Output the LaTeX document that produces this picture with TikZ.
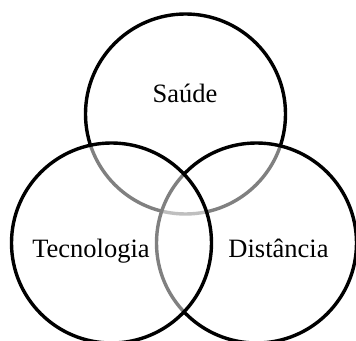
\documentclass[tikz,border=0pt]{standalone}
\usepackage{fontspec}
\setmainfont{Liberation Serif}
\begin{document}
\begin{tikzpicture}[x=1pt,y=1pt,
  venn/.style={circle, draw=black, line width=3.4pt, fill=white, fill opacity=0.5, draw opacity=1, minimum size=200pt, inner sep=0pt},
  lbl/.style={anchor=base, font=\fontsize{26.5}{30}\selectfont, text=black, inner sep=0pt}]
\useasboundingbox (0,0) rectangle (356,340);
\node[venn] (saude) at (185.5,226) {};
\node[venn] (dist) at (256.5,97) {};
\node[venn] (tec) at (111.5,97) {};
\node[lbl] (tsaude) at (185,237) {Saúde};
\node[lbl] (ttec) at (91,82) {Tecnologia};
\node[lbl] (tdist) at (278.5,82) {Distância};
\end{tikzpicture}
\end{document}
